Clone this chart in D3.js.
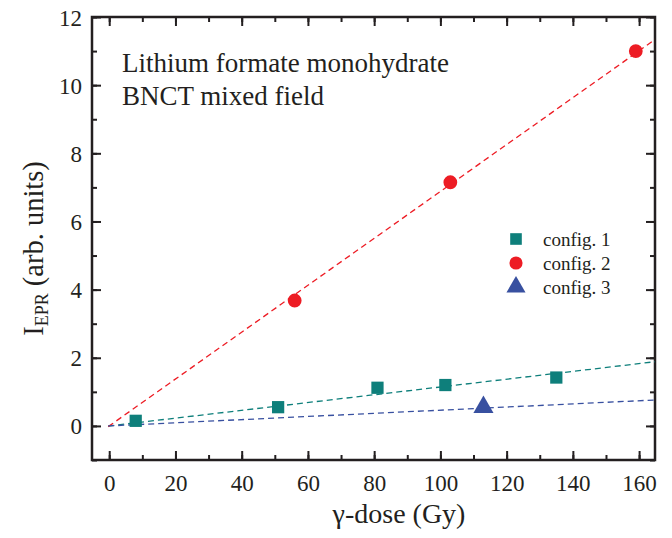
<!DOCTYPE html>
<html>
<head>
<meta charset="utf-8">
<script src="https://cdn.jsdelivr.net/npm/d3@7"></script>
</head>
<body style="margin:0; background:#fff">
<script>
// data
var config1_dose = [8, 51, 81, 101.5, 135];
var config1_epr  = [0.15, 0.55, 1.12, 1.2, 1.42];
var config2_dose = [56, 103, 159];
var config2_epr  = [3.68, 7.15, 11.0];
var config3_dose = [113];
var config3_epr  = [0.55];
// slopes of the dashed linear fits (through origin)
var fit_slopes = [0.01143, 0.0688, 0.00462];
var series_names = ["config. 1", "config. 2", "config. 3"];
var series_colors = ["#0e7f7b", "#ed1c24", "#3850a0"];
var x_ticks = [0, 20, 40, 60, 80, 100, 120, 140, 160];
var y_ticks = [0, 2, 4, 6, 8, 10, 12];

var FONT = "'Liberation Serif', 'Times New Roman', serif";
var INK = "#231f20";

var outer_width = 672, outer_height = 538;
var margin = {top: 17, right: 17, bottom: 78, left: 92};
var w = outer_width - margin.left - margin.right;
var h = outer_height - margin.top - margin.bottom;

var svg = d3.select("body").append("svg")
    .attr("width", outer_width)
    .attr("height", outer_height)
  .append("g")
    .attr("transform", "translate(" + margin.left + "," + margin.top + ")");

var xScale = d3.scaleLinear().domain([-5.2, 164.8]).range([0, w]);
var yScale = d3.scaleLinear().domain([-1, 12]).range([h, 0]);

svg.append("clipPath").attr("id", "clip")
  .append("rect").attr("width", w).attr("height", h);

// axes: major ticks labelled, minor ticks in between, all inward
function drawAxis(axisFn, scale, majors, minors, transform, labels) {
  var g = svg.append("g").attr("transform", transform);
  g.call(axisFn(scale).tickValues(minors).tickSize(-5).tickFormat(""));
  var g2 = svg.append("g").attr("transform", transform);
  g2.call(axisFn(scale).tickValues(majors).tickSize(-9).tickPadding(labels === "x" ? 13 : 10)
      .tickFormat(labels ? d3.format("d") : ""));
  [g, g2].forEach(function(a) {
    a.selectAll(".domain").remove();
    a.selectAll("line").attr("stroke", INK).attr("stroke-width", 2);
  });
  g2.selectAll("text")
    .style("font-family", FONT).style("font-size", "23px").style("fill", INK);
  return g2;
}
var xMinor = d3.range(0, 161, 10), yMinor = d3.range(-1, 13, 1);
var bx = drawAxis(d3.axisBottom, xScale, x_ticks, xMinor, "translate(0," + h + ")", "x");
bx.selectAll("text").attr("dy", "0.8em");
drawAxis(d3.axisTop, xScale, x_ticks, xMinor, "translate(0,0)", null);
var ly = drawAxis(d3.axisLeft, yScale, y_ticks, yMinor, "translate(0,0)", "y");
ly.selectAll("text").attr("dy", "0.35em");
drawAxis(d3.axisRight, yScale, y_ticks, yMinor, "translate(" + w + ",0)", null);

svg.append("rect").attr("width", w).attr("height", h)
  .attr("fill", "none").attr("stroke", INK).attr("stroke-width", 2.5);

// fit lines
var line = d3.line().x(function(d) { return xScale(d[0]); }).y(function(d) { return yScale(d[1]); });
fit_slopes.forEach(function(s, i) {
  svg.append("path")
    .attr("clip-path", "url(#clip)")
    .attr("d", line([[-0.3, -0.3 * s], [166, 166 * s]]))
    .attr("fill", "none")
    .attr("stroke", series_colors[i])
    .attr("stroke-width", 1.3)
    .attr("stroke-dasharray", "6,4");
});

// markers
var symbols = [d3.symbolSquare, d3.symbolCircle, d3.symbolTriangle];
var sizes = [150, 150, 175];
var all = [[config1_dose, config1_epr], [config2_dose, config2_epr], [config3_dose, config3_epr]];
all.forEach(function(s, i) {
  svg.selectAll(".pt" + i)
    .data(s[0])
    .enter().append("path")
    .attr("class", "pt" + i)
    .attr("d", d3.symbol().type(symbols[i]).size(sizes[i]))
    .attr("transform", function(d, j) {
      return "translate(" + xScale(d) + "," + yScale(s[1][j]) + ")";
    })
    .attr("fill", series_colors[i]);
});

// legend
var legend = svg.append("g").attr("transform", "translate(424,222)");
series_names.forEach(function(n, i) {
  legend.append("path")
    .attr("d", d3.symbol().type(symbols[i]).size(sizes[i] * 0.9))
    .attr("transform", "translate(0," + (i * 24) + ")")
    .attr("fill", series_colors[i]);
  legend.append("text")
    .attr("x", 27).attr("y", i * 24 + 7)
    .style("font-family", FONT).style("font-size", "19px").style("fill", INK)
    .text(n);
});

// annotation
svg.append("text").attr("x", 30).attr("y", 55)
  .style("font-family", FONT).style("font-size", "27px").style("fill", INK)
  .text("Lithium formate monohydrate");
svg.append("text").attr("x", 30).attr("y", 88)
  .style("font-family", FONT).style("font-size", "27px").style("fill", INK)
  .text("BNCT mixed field");

// axis titles
svg.append("text")
  .attr("x", 307).attr("y", h + 63)
  .attr("text-anchor", "middle")
  .style("font-family", FONT).style("font-size", "28px").style("fill", INK)
  .text("γ-dose (Gy)");

var yt = svg.append("text")
  .attr("transform", "translate(-49," + (h / 2 + 10) + ") rotate(-90)")
  .attr("text-anchor", "middle")
  .style("font-family", FONT).style("font-size", "28.5px").style("fill", INK);
yt.append("tspan").text("I");
yt.append("tspan").attr("dy", 5).style("font-size", "18px").text("EPR");
yt.append("tspan").attr("dy", -5).text(" (arb. units)");
</script>
</body>
</html>
